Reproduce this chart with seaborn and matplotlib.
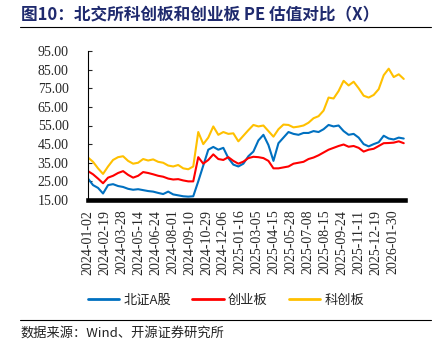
import matplotlib
matplotlib.use("Agg")
import matplotlib.pyplot as plt
import seaborn as sns
import pandas as pd
from matplotlib.lines import Line2D

# ---- data (trading-day index) ----
day_index = [0, 8, 16, 24, 32, 40, 48, 56, 64, 72, 80, 88, 96, 104, 112, 120,
             128, 136, 144, 152, 160, 168, 176, 184, 192, 200, 208, 216, 224, 232,
             240, 248, 256, 264, 272, 280, 288, 296, 304, 312, 320, 328, 336, 344,
             352, 360, 368, 376, 384, 392, 400, 408, 416, 424, 432, 440, 448, 456,
             464, 472, 480, 488, 496, 504]

bz_a = [26.5, 23.0, 21.5, 18.5, 23.0, 23.5, 22.5, 22.0, 21.0, 20.5, 20.8, 20.3,
        19.8, 19.5, 18.8, 18.2, 19.5, 18.0, 17.5, 17.0, 16.8, 17.0, 25.0, 33.5,
        42.0, 43.5, 42.0, 43.0, 37.5, 34.0, 33.0, 34.5, 38.5, 41.0, 47.0, 50.0,
        44.5, 36.0, 45.5, 48.5, 51.5, 50.5, 50.0, 51.0, 51.0, 52.0, 51.5, 53.0,
        55.3, 54.5, 55.0, 52.0, 50.0, 50.5, 48.5, 45.0, 43.8, 45.0, 46.0, 49.5,
        48.0, 47.5, 48.5, 48.0]

cyb = [30.5, 28.8, 26.5, 24.0, 27.0, 28.0, 29.5, 30.5, 28.5, 27.0, 28.0, 30.0,
       29.5, 28.8, 28.0, 27.5, 26.5, 26.0, 26.2, 25.5, 25.0, 25.0, 38.0, 34.5,
       36.5, 39.5, 37.0, 36.5, 38.0, 36.0, 34.5, 35.6, 37.5, 38.2, 38.0, 37.5,
       36.0, 32.0, 32.0, 32.5, 33.0, 34.5, 35.0, 35.5, 37.0, 37.8, 39.0, 40.5,
       42.0, 43.0, 44.0, 44.8, 43.6, 44.0, 43.0, 41.0, 42.0, 42.5, 44.0, 45.5,
       45.6, 45.8, 46.5, 45.5]

kcb = [37.8, 35.5, 32.0, 29.0, 33.0, 36.5, 38.0, 38.5, 36.0, 34.5, 35.0, 37.0,
       36.2, 36.8, 35.5, 35.0, 33.5, 33.0, 33.8, 32.0, 31.5, 33.0, 51.5, 45.0,
       48.5, 54.5, 50.0, 51.5, 50.5, 50.8, 46.5, 49.5, 52.5, 55.3, 54.5, 55.0,
       52.0, 49.0, 53.0, 55.5, 55.3, 54.0, 54.4, 55.0, 56.5, 58.9, 60.0, 63.0,
       70.0, 69.5, 73.5, 79.0, 76.5, 78.5, 75.0, 71.0, 70.0, 71.4, 74.5, 82.0,
       85.5, 81.0, 82.5, 80.0]

series_names = ["北证A股", "创业板", "科创板"]
series_colors = ["#0070C0", "#FF0000", "#FFC000"]

tick_labels = ["2024-01-02", "2024-02-19", "2024-03-28", "2024-05-14", "2024-06-24",
               "2024-08-01", "2024-09-10", "2024-10-29", "2024-12-06", "2025-01-16",
               "2025-03-05", "2025-04-15", "2025-05-28", "2025-07-08", "2025-08-15",
               "2025-09-24", "2025-11-11", "2025-12-19", "2026-01-30"]
tick_step = 27  # trading days between labels

y_ticks = [15, 25, 35, 45, 55, 65, 75, 85, 95]

# ---- figure ----
sns.set_style("white")
plt.rcParams["font.family"] = ["Noto Sans CJK SC", "DejaVu Sans"]

df = pd.DataFrame({
    "day": day_index * 3,
    "value": bz_a + cyb + kcb,
    "series": [series_names[0]] * len(bz_a) + [series_names[1]] * len(cyb)
              + [series_names[2]] * len(kcb),
})

fig = plt.figure(figsize=(4.39, 3.48), dpi=100)
ax = fig.add_axes([88 / 439, 1 - 200 / 348, (405 - 88) / 439, (200 - 51) / 348])

sns.lineplot(data=df, x="day", y="value", hue="series", hue_order=series_names,
             palette=series_colors, linewidth=1.5, ax=ax, legend=False)

ax.set_xlim(0, 506)
ax.set_ylim(15, 95)
ax.set_yticks(y_ticks)
ax.set_yticklabels([f"{v:.2f}" for v in y_ticks], fontfamily="Liberation Serif",
                   fontsize=10)
ax.set_xticks([i * tick_step for i in range(len(tick_labels))])
ax.set_xticklabels(tick_labels, rotation=90, fontfamily="Liberation Serif", fontsize=10)
ax.tick_params(axis="x", length=0, pad=7)
ax.tick_params(axis="y", direction="in", length=3, width=0.8, pad=14, left=True)
ax.set_xlabel("")
ax.set_ylabel("")
for s in ["top", "right"]:
    ax.spines[s].set_visible(False)
ax.spines["left"].set_color("black")
ax.spines["left"].set_linewidth(0.8)
ax.spines["bottom"].set_color("black")
ax.spines["bottom"].set_linewidth(3.3)
ax.spines["bottom"].set_zorder(5)
ax.grid(False)

handles = [Line2D([0], [0], color=c, lw=2) for c in series_colors]
fig.legend(handles, series_names, loc="center", bbox_to_anchor=(226 / 439, 1 - 300 / 348),
           ncol=3, frameon=False, fontsize=9.5, handlelength=2.4, handletextpad=0.3,
           columnspacing=1.6)

# title and footer
fig.text(21 / 439, 1 - 15 / 348, "图10：北交所科创板和创业板 PE 估值对比（X）",
         fontsize=12, fontweight="bold", color="#1F2A6E", va="center", ha="left")
fig.add_artist(Line2D([20 / 439, 431 / 439], [1 - 27 / 348, 1 - 27 / 348],
                      color="black", lw=0.8))
fig.add_artist(Line2D([20 / 439, 431 / 439], [1 - 320 / 348, 1 - 320 / 348],
                      color="black", lw=0.8))
fig.text(20 / 439, 1 - 333 / 348, "数据来源：Wind、开源证券研究所", fontsize=9.5,
         color="#222222", va="center", ha="left")

fig.savefig("out.png", dpi=100)
